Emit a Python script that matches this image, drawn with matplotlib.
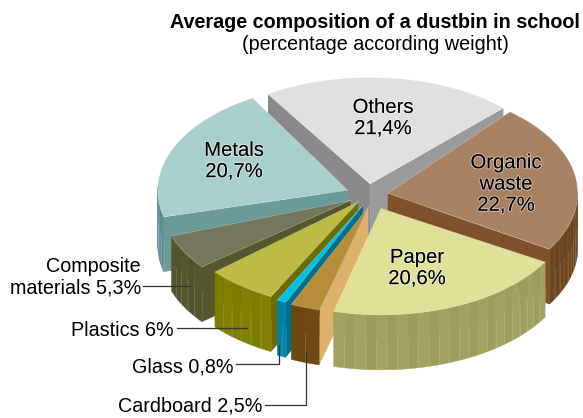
import numpy as np
import matplotlib
matplotlib.use("Agg")
import matplotlib.pyplot as plt
import matplotlib.patheffects as pe

plt.rcParams["font.family"] = ["Liberation Sans", "DejaVu Sans"]

# clockwise from Others
names = ["Others", "Organic waste", "Paper", "Cardboard", "Glass", "Plastics", "Composite materials", "Metals"]
values = [21.4, 22.7, 20.6, 2.5, 0.8, 6, 5.3, 20.7]
top_colors = ["#e0e0e0", "#a98163", "#e1e098", "#b98c3c", "#00c0e8", "#bcbc45", "#76765a", "#a8cece"]
rim_colors = ["#8a8a8a", "#6e4620", "#a3a15f", "#6e4a10", "#0085a8", "#808000", "#55552f", "#5d8a90"]
ccw_colors = ["#8a8a8a", "#80522b", "#b0ae60", "#ddb06b", "#006f8c", "#6b6b00", "#55552f", "#6a9a9a"]
cw_colors = ["#9a9a9a", "#80522b", "#b0ae60", "#8a6a30", "#006f8c", "#6b6b00", "#55552f", "#6a9a9a"]
# the original's perspective turns and pushes each slice a little
nudge = [-1.5, 3, 4.5, 4, 4, 3.5, 1, -4]
explode = [20, 20, 26, 23, 20, 16, 20, 22]
shift_x = [0, 0, 3, 8, 3.5, 0, 0, 0]
draw_order = [0, 7, 1, 6, 5, 4, 3, 2]

cx, cy = 368, 195
R = 190
k = 0.56
h = 55
start = 124

fig = plt.figure(figsize=(5.83, 4.18), dpi=100)
ax = fig.add_axes([0, 0, 1, 1])
ax.set_xlim(0, 583)
ax.set_ylim(418, 0)
ax.axis("off")


def shade(color, f):
    c = np.array(matplotlib.colors.to_rgb(color)) * f
    return tuple(np.clip(c, 0, 1))


sweeps = np.array(values) / sum(values) * 360
ends = start - np.cumsum(sweeps) + np.array(nudge)
starts = ends + sweeps

for i in draw_order:
    a0, a1 = np.radians(starts[i]), np.radians(ends[i])
    mid = (a0 + a1) / 2
    ax0 = cx + explode[i] * np.cos(mid) + shift_x[i]
    ay0 = cy - explode[i] * k * np.sin(mid)
    t = np.linspace(a0, a1, 80)
    xs = ax0 + R * np.cos(t)
    ys = ay0 - R * k * np.sin(t)

    # cut faces, only those turned to the viewer
    for a, normal, col in [(a0, a0 + np.pi / 2, ccw_colors[i]), (a1, a1 - np.pi / 2, cw_colors[i])]:
        if np.sin(normal) > 0:
            continue
        ex = ax0 + R * np.cos(a)
        ey = ay0 - R * k * np.sin(a)
        ax.fill([ax0, ex, ex, ax0], [ay0, ey, ey + h, ay0 + h], color=col, lw=0)

    # outer rim, front part only, in vertical bands
    n_bands = max(2, int(abs(starts[i] - ends[i]) / 3.2))
    bt = np.linspace(a0, a1, n_bands + 1)
    for j in range(n_bands):
        if np.sin((bt[j] + bt[j + 1]) / 2) > 0.02:
            continue
        tt = np.linspace(bt[j], bt[j + 1], 6)
        bx = ax0 + R * np.cos(tt)
        by = ay0 - R * k * np.sin(tt)
        f = 1.0 if j % 2 == 0 else 0.97
        col = shade(rim_colors[i], f)
        ax.fill(np.r_[bx, bx[::-1]], np.r_[by, by[::-1] + h], color=col, lw=0.3)
        ax.plot([bx[0], bx[0]], [by[0] + h * 0.45, by[0] + h], color="white", alpha=0.14, lw=0.6)

    # top
    ax.fill(np.r_[ax0, xs], np.r_[ay0, ys], color=top_colors[i], lw=0)
    ax.plot(np.r_[ax0, xs, ax0], np.r_[ay0, ys, ay0], color="white", alpha=0.3, lw=0.5)

halo = [pe.withStroke(linewidth=1.4, foreground=(1, 1, 1, 0.5))]
ax.text(383, 118, "Others\n21,4%", ha="center", va="center", fontsize=14.6, linespacing=1.15, path_effects=halo)
ax.text(234, 161, "Metals\n20,7%", ha="center", va="center", fontsize=14.6, linespacing=1.15, path_effects=halo)
ax.text(506, 184, "Organic\nwaste\n22,7%", ha="center", va="center", fontsize=14.6, linespacing=1.15, path_effects=halo)
ax.text(417, 268, "Paper\n20,6%", ha="center", va="center", fontsize=14.6, linespacing=1.15, path_effects=halo)

ax.text(580, 22, "Average composition of a dustbin in school", ha="right", va="center", fontsize=14.2, fontweight="bold")
ax.text(375, 44, "(percentage according weight)", ha="center", va="center", fontsize=14.2)

ax.text(141, 277, "Composite\nmaterials 5,3%", ha="right", va="center", fontsize=14.2, linespacing=1.2)
ax.text(174, 330, "Plastics 6%", ha="right", va="center", fontsize=14.2)
ax.text(233, 367, "Glass 0,8%", ha="right", va="center", fontsize=14.2)
ax.text(262, 406, "Cardboard 2,5%", ha="right", va="center", fontsize=14.2)

lc = "#333333"
ax.plot([143, 190], [286, 286], color=lc, lw=0.9)
ax.plot([177, 247], [328, 328], color=lc, lw=0.9)
ax.plot([236, 279, 279], [364, 364, 345], color=lc, lw=0.9)
ax.plot([265, 306, 306], [405, 405, 352], color=lc, lw=0.9)

fig.savefig("out.png", dpi=100)
